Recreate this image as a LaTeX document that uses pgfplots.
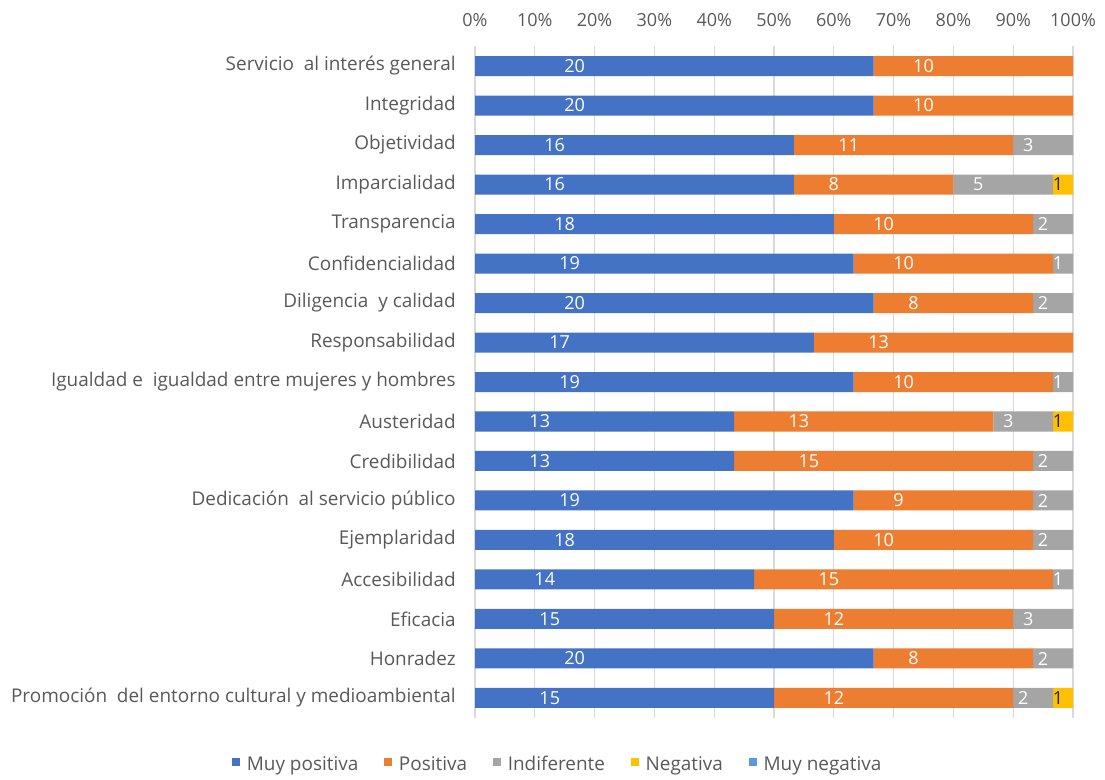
\documentclass[border=0pt]{standalone}
\usepackage{fontspec}
\setmainfont{Open Sans}
\usepackage{pgfplots}
\usepackage{pgfplotstable}
\pgfplotsset{compat=1.18}
\definecolor{cMP}{HTML}{4472C4}
\definecolor{cP}{HTML}{ED7D31}
\definecolor{cI}{HTML}{A5A5A5}
\definecolor{cN}{HTML}{FFC000}
\definecolor{cMN}{HTML}{5B9BD5}
\definecolor{txt}{HTML}{595959}
\definecolor{grd}{HTML}{D9D9D9}
\pgfplotstableread{
y mp p i n mn
0 15 12 2 1 0
1 20 8 2 0 0
2 15 12 3 0 0
3 14 15 1 0 0
4 18 10 2 0 0
5 19 9 2 0 0
6 13 15 2 0 0
7 13 13 3 1 0
8 19 10 1 0 0
9 17 13 0 0 0
10 20 8 2 0 0
11 19 10 1 0 0
12 18 10 2 0 0
13 16 8 5 1 0
14 16 11 3 0 0
15 20 10 0 0 0
16 20 10 0 0 0
}\datatable
\newcommand{\lfont}{\fontsize{14.2pt}{16pt}\selectfont}
\newcommand{\tfont}{\fontsize{13.5pt}{15pt}\selectfont}
\begin{document}
\begin{tikzpicture}
\path[use as bounding box] (0,0) rectangle (828.75pt,-585pt);
\begin{axis}[
  at={(580.5pt,-286.5pt)}, anchor=center,
  scale only axis, width=448.5pt, height=503.6pt,
  xbar stacked, bar width=15pt,
  xmin=0, xmax=30, ymin=-0.5, ymax=16.5,
  enlargelimits=false,
  axis line style={draw=none},
  tick style={draw=none},
  major tick length=0pt,
  /pgf/number format/assume math mode=true,
  xmajorgrids, grid style={grd, line width=0.8pt},
  xtick={0,3,...,30},
  xticklabels={0\%,10\%,20\%,30\%,40\%,50\%,60\%,70\%,80\%,90\%,100\%},
  xticklabel pos=upper,
  xticklabel style={font=\tfont, text=txt, yshift=11.5pt},
  ytick={0,...,16},
  yticklabels={Promoción~ del entorno cultural y medioambiental, Honradez, Eficacia, Accesibilidad, Ejemplaridad, Dedicación~ al servicio público, Credibilidad, Austeridad, Igualdad e~ igualdad entre mujeres y hombres, Responsabilidad, Diligencia~ y calidad, Confidencialidad, Transparencia, Imparcialidad, Objetividad, Integridad, Servicio~ al interés general},
  yticklabel style={font=\lfont, text=txt, xshift=-11pt},
  point meta=explicit,
  visualization depends on={rawx \as \rawx},
  nodes near coords={\pgfmathfloatifflags{\pgfplotspointmeta}{0}{}{\pgfmathprintnumber{\pgfplotspointmeta}}},
  every node near coord/.append style={anchor=center, xshift={-\rawx*3.7375pt}, font=\tfont, text=white},
  legend columns=5,
  legend style={at={(0.139,-0.0733)}, anchor=center, draw=none, fill=none,
    font=\lfont, text=txt, nodes={text height=0.75em, text depth=0.25em},
    /tikz/every even column/.append style={column sep=17.5pt}},
  legend image code/.code={\fill[#1] (0pt,0.8pt) rectangle (6pt,6.8pt); \path (9pt,0pt);},
]
\addplot[fill=cMP, draw=none] table[x=mp, y=y, meta=mp] {\datatable};
\addplot[fill=cP, draw=none] table[x=p, y=y, meta=p] {\datatable};
\addplot[fill=cI, draw=none] table[x=i, y=y, meta=i] {\datatable};
\addplot[fill=cN, draw=none, every node near coord/.append style={text=black!85}] table[x=n, y=y, meta=n] {\datatable};
\addplot[fill=cMN, draw=none] table[x=mn, y=y, meta=mn] {\datatable};
\legend{Muy positiva, Positiva, Indiferente, Negativa, Muy negativa}
\end{axis}
\end{tikzpicture}
\end{document}
